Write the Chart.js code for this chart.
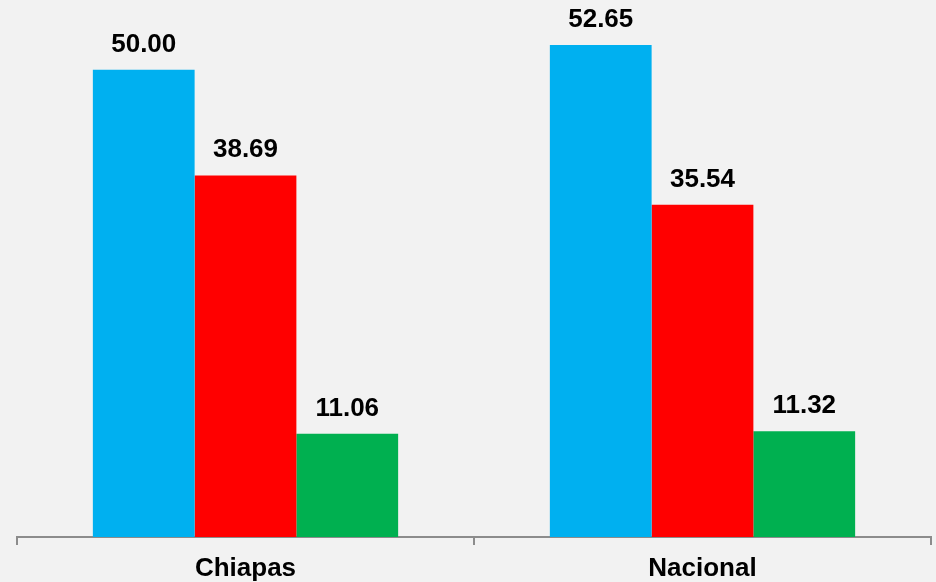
<!DOCTYPE html>
<html>
<head>
<meta charset="utf-8">
<script src="https://cdn.jsdelivr.net/npm/chart.js@4/dist/chart.umd.min.js"></script>
<style>
  html, body { margin: 0; padding: 0; background: #f2f2f2; }
  #wrap { width: 936px; height: 582px; }
</style>
</head>
<body>
<div id="wrap"><canvas id="myChart"></canvas></div>
<script>
const categorias = ['Chiapas', 'Nacional'];
const serieAzul = [50.00, 52.65];
const serieRoja = [38.69, 35.54];
const serieVerde = [11.06, 11.32];

// etiquetas con el valor encima de cada barra
const etiquetas = {
  id: 'etiquetas',
  afterDatasetsDraw(chart) {
    const ctx = chart.ctx;
    ctx.save();
    ctx.font = 'bold 26px "Liberation Sans", Arial, sans-serif';
    ctx.fillStyle = '#000';
    ctx.textAlign = 'center';
    ctx.textBaseline = 'alphabetic';
    chart.data.datasets.forEach((ds, i) => {
      chart.getDatasetMeta(i).data.forEach((bar, j) => {
        ctx.fillText(ds.data[j].toFixed(2), bar.x, bar.y - 18);
      });
    });
    ctx.restore();
  }
};

const data = {
  labels: categorias,
  datasets: [
    { data: serieAzul, backgroundColor: '#00b0f0' },
    { data: serieRoja, backgroundColor: '#ff0000' },
    { data: serieVerde, backgroundColor: '#00b050' }
  ]
};

const config = {
  type: 'bar',
  data: data,
  options: {
    responsive: true,
    maintainAspectRatio: false,
    animation: false,
    layout: { padding: { left: 17, right: 5, top: 0, bottom: 0 } },
    plugins: { legend: { display: false }, tooltip: { enabled: false } },
    datasets: { bar: { categoryPercentage: 0.668, barPercentage: 1.0 } },
    scales: {
      x: {
        offset: true,
        afterFit(scale) { scale.height = 45; },
        grid: {
          offset: true,
          drawOnChartArea: false,
          drawTicks: true,
          tickLength: 8,
          lineWidth: 2,
          color: '#8c8c8c'
        },
        border: { display: true, color: '#8c8c8c', width: 2 },
        ticks: {
          color: '#000',
          padding: 8,
          font: { family: '"Liberation Sans", Arial, sans-serif', size: 26, weight: 'bold' }
        }
      },
      y: {
        display: false,
        min: 0,
        max: 57.46
      }
    }
  },
  plugins: [etiquetas]
};

const myChart = new Chart(document.getElementById('myChart'), config);
</script>
</body>
</html>
